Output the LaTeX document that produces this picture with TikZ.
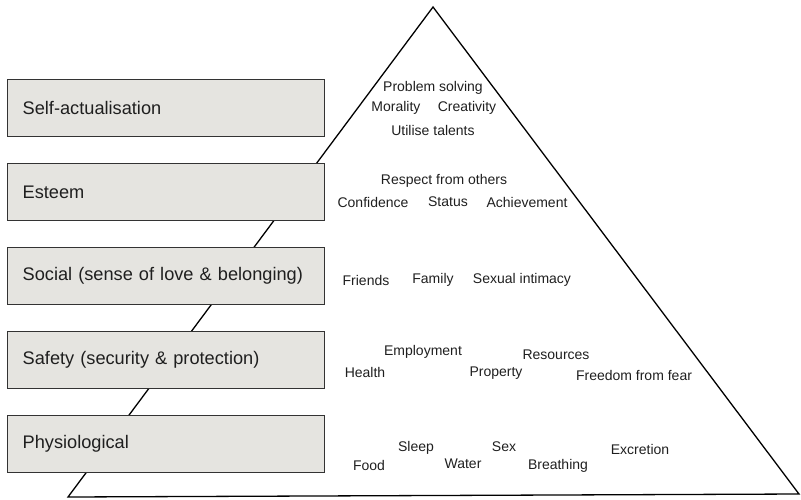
\documentclass[tikz,border=0pt]{standalone}
\usepackage{fontspec}
\setmainfont{Liberation Sans}
\usepackage{xcolor}
\usepackage{tikz}
\usetikzlibrary{positioning,calc}
\definecolor{boxgray}{HTML}{E5E4E0}
\definecolor{edgegray}{HTML}{333333}

\begin{document}
\begin{tikzpicture}[x=1pt, y=-1pt,
    level box/.style={draw=edgegray, line width=1.4pt, fill=boxgray, rectangle, minimum height=57pt, text width=287pt, inner xsep=15pt, align=left, anchor=west, font=\fontsize{18.2}{21}\selectfont, text=black!88},
    need/.style={font=\fontsize{14}{16}\selectfont, text=black!88, inner sep=0pt}]
    \useasboundingbox (0,0) rectangle (801,499);

    % pyramid
    \coordinate (apex) at (433,7);
    \coordinate (baseL) at (68,497);
    \coordinate (baseR) at (799,494);
    \draw[line width=1.3pt] (apex) -- (baseR) -- (baseL) -- cycle;

    % levels
    \node[level box] (self) at (7,108) {Self-actualisation};
    \node[level box] (esteem) at (7,192) {Esteem};
    \node[level box] (social) at (7,276) {Social (sense of love \& belonging)};
    \node[level box] (safety) at (7,360) {Safety (security \& protection)};
    \node[level box] (phys) at (7,444) {Physiological};

    % self-actualisation needs
    \node[need] (problem) at (433,88) {Problem solving};
    \node[need] (morality) at (396,108) {Morality};
    \node[need] (creativity) at (467,108) {Creativity};
    \node[need] (talents) at (433,130) {Utilise talents};

    % esteem needs
    \node[need] (respect) at (444,181) {Respect from others};
    \node[need] (confidence) at (373,202) {Confidence};
    \node[need] (status) at (448,202) {Status};
    \node[need] (achieve) at (527,202) {Achievement};

    % social needs
    \node[need] (friends) at (366,280) {Friends};
    \node[need] (family) at (433,280) {Family};
    \node[need] (intimacy) at (522,280) {Sexual intimacy};

    % safety needs
    \node[need] (employ) at (423,352) {Employment};
    \node[need] (resources) at (556,355) {Resources};
    \node[need] (health) at (365,372) {Health};
    \node[need] (property) at (496,373) {Property};
    \node[need] (fear) at (634,375) {Freedom from fear};

    % physiological needs
    \node[need] (sleep) at (416,448) {Sleep};
    \node[need] (sex) at (504,447) {Sex};
    \node[need] (excretion) at (640,449) {Excretion};
    \node[need] (food) at (369,465) {Food};
    \node[need] (water) at (463,464) {Water};
    \node[need] (breathing) at (558,466) {Breathing};

\end{tikzpicture}
\end{document}
